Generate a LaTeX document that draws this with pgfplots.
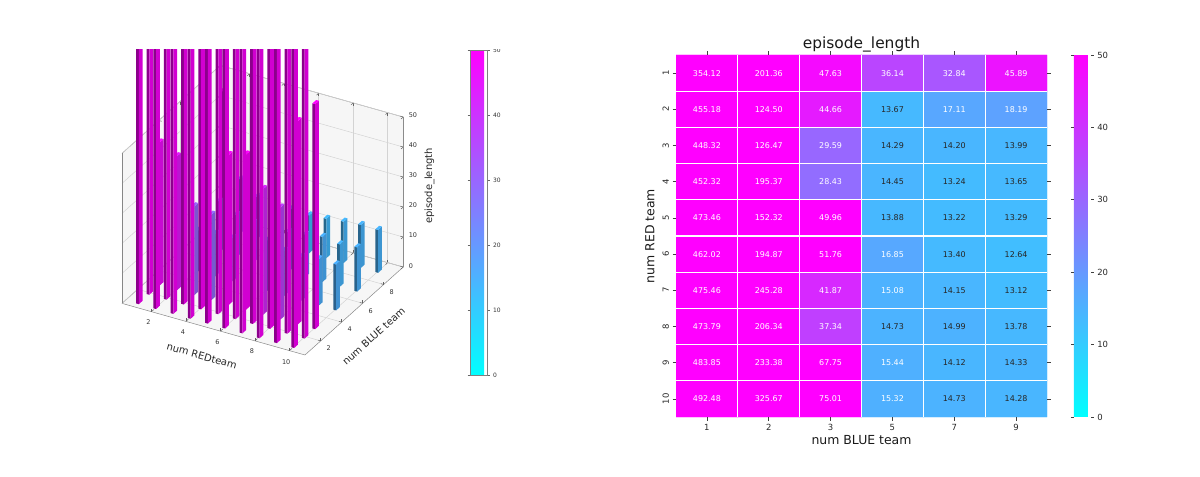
\documentclass[border=0pt]{standalone}
\usepackage{pgfplots}
\usepackage{pgfplotstable}
\pgfplotsset{compat=1.18}
\usepackage{fontspec}
\setmainfont{DejaVu Sans}

\pgfplotstableread{
red col blue v
1 0 1 354.12
1 1 2 201.36
1 2 3 47.63
1 3 5 36.14
1 4 7 32.84
1 5 9 45.89
2 0 1 455.18
2 1 2 124.50
2 2 3 44.66
2 3 5 13.67
2 4 7 17.11
2 5 9 18.19
3 0 1 448.32
3 1 2 126.47
3 2 3 29.59
3 3 5 14.29
3 4 7 14.20
3 5 9 13.99
4 0 1 452.32
4 1 2 195.37
4 2 3 28.43
4 3 5 14.45
4 4 7 13.24
4 5 9 13.65
5 0 1 473.46
5 1 2 152.32
5 2 3 49.96
5 3 5 13.88
5 4 7 13.22
5 5 9 13.29
6 0 1 462.02
6 1 2 194.87
6 2 3 51.76
6 3 5 16.85
6 4 7 13.40
6 5 9 12.64
7 0 1 475.46
7 1 2 245.28
7 2 3 41.87
7 3 5 15.08
7 4 7 14.15
7 5 9 13.12
8 0 1 473.79
8 1 2 206.34
8 2 3 37.34
8 3 5 14.73
8 4 7 14.99
8 5 9 13.78
9 0 1 483.85
9 1 2 233.38
9 2 3 67.75
9 3 5 15.44
9 4 7 14.12
9 5 9 14.33
10 0 1 492.48
10 1 2 325.67
10 2 3 75.01
10 3 5 15.32
10 4 7 14.73
10 5 9 14.28
}\eplen

\pgfplotsset{colormap={cool}{rgb=(0,1,1) rgb=(1,0,1)}}

\begin{document}
\begin{tikzpicture}
\useasboundingbox (0bp,0bp) rectangle (1200bp,477bp);
\begin{scope}
\clip (0bp,0bp) rectangle (640bp,427.5bp);
\begin{axis}[
  at={(122bp,122bp)}, anchor=south west,
  x={(17.26bp,-4.87bp)}, y={(10.5bp,9.4bp)}, z={(0bp,3bp)},
  xmin=0.3,xmax=10.9,ymin=0.5,ymax=9.86,zmin=0,zmax=50,
  clip=false,
  xtick={2,4,...,10}, ytick={2,4,6,8}, ztick={0,10,...,50},
  ztick pos=right,
  grid=major, grid style={black!14, line width=0.5bp},
  axis line style={black!45, line width=0.5bp},
  tick style={black!60, line width=0.5bp},
  major tick length=3bp,
  /pgf/number format/assume math mode=true,
  tick label style={font=\fontsize{6.5}{7}\selectfont, text=black!80},
  xticklabel style={yshift=-4bp},
  yticklabel style={xshift=3bp, yshift=-1bp},
  zticklabel style={xshift=2bp},
  zticklabel pos=right,
  xlabel={num REDteam}, ylabel={num BLUE team}, zlabel={episode\_length},
  label style={font=\fontsize{10}{11}\selectfont, text=black!85},
  xlabel style={sloped like x axis, yshift=-2bp},
  ylabel style={sloped like y axis, yshift=-6bp},
  colormap name=cool, point meta min=0, point meta max=50,
  colorbar, colorbar shift/.style={},
  colorbar style={at={(parent axis.south west)}, anchor=south west,
    xshift=348bp, yshift=-20bp, width=17bp, height=325bp, scale only axis,
    ytick={0,10,...,50}, yticklabel pos=right,
    axis line style={black!50, line width=0.5bp},
    tick align=outside, major tick length=2.5bp, tick style={black!60},
    /pgf/number format/assume math mode=true,
    yticklabel style={font=\fontsize{6}{7}\selectfont, text=black!80}},
]
% light panes (drawn over the grid with low opacity)
\fill[black, fill opacity=0.035] (axis cs:0.3,0.5,0) -- (axis cs:10.9,0.5,0) -- (axis cs:10.9,9.86,0) -- (axis cs:0.3,9.86,0) -- cycle;
\fill[black, fill opacity=0.035] (axis cs:0.3,0.5,0) -- (axis cs:0.3,9.86,0) -- (axis cs:0.3,9.86,50) -- (axis cs:0.3,0.5,50) -- cycle;
\fill[black, fill opacity=0.035] (axis cs:0.3,9.86,0) -- (axis cs:10.9,9.86,0) -- (axis cs:10.9,9.86,50) -- (axis cs:0.3,9.86,50) -- cycle;
\foreach \c in {5,4,3,2,1,0}{
  \foreach \r in {1,...,10}{
    \pgfmathtruncatemacro\idx{(\r-1)*6+\c}
    \pgfplotstablegetelem{\idx}{v}\of\eplen \let\h\pgfplotsretval
    \pgfplotstablegetelem{\idx}{blue}\of\eplen \let\bb\pgfplotsretval
    \pgfplotstablegetelem{\idx}{red}\of\eplen \let\rr\pgfplotsretval
    \pgfmathsetmacro\t{min(\h,50)/50}
    \pgfmathsetmacro\ga{1-\t}
    \pgfmathsetmacro\rl{0.55*\t}
    \pgfmathsetmacro\gl{0.55*(1-\t)}
    \pgfmathsetmacro\rd{0.82*\t}
    \pgfmathsetmacro\gd{0.82*(1-\t)}
    \pgfmathsetmacro\xa{\rr-0.08}
    \pgfmathsetmacro\xb{\rr+0.08}
    \pgfmathsetmacro\ya{\bb-0.18}
    \pgfmathsetmacro\yb{\bb+0.18}
    \edef\temp{%
      \noexpand\addplot3[draw=none, fill={rgb,1:red,\rl;green,\gl;blue,0.55}] coordinates {(\xa,\ya,0) (\xb,\ya,0) (\xb,\ya,\h) (\xa,\ya,\h)};
      \noexpand\addplot3[draw=none, fill={rgb,1:red,\rd;green,\gd;blue,0.82}] coordinates {(\xb,\ya,0) (\xb,\yb,0) (\xb,\yb,\h) (\xb,\ya,\h)};
      \noexpand\addplot3[draw=none, fill={rgb,1:red,\t;green,\ga;blue,1}] coordinates {(\xa,\ya,\h) (\xb,\ya,\h) (\xb,\yb,\h) (\xa,\yb,\h)};
    }
    \temp
  }
}
\end{axis}
\end{scope}

\begin{axis}[
  at={(676bp,60bp)}, anchor=south west,
  width=371bp, height=362bp, scale only axis,
  xmin=-0.5, xmax=5.5, ymin=0.5, ymax=10.5, y dir=reverse,
  xtick={0,...,5}, xticklabels={1,2,3,5,7,9},
  ytick={1,...,10},
  minor xtick={0.5,1.5,2.5,3.5,4.5}, minor ytick={1.5,2.5,...,9.5},
  grid=minor, minor grid style={white, line width=1.2bp},
  axis on top, axis line style={draw=none},
  tick align=outside, major tick length=3.5bp, minor tick length=0pt,
  tick style={black!75, line width=0.6bp},
  /pgf/number format/assume math mode=true,
  tick label style={font=\fontsize{8.5}{10}\selectfont, text=black!85},
  yticklabel style={rotate=90, anchor=south},
  title={episode\_length},
  every axis title shift=0pt,
  title style={at={(axis description cs:0.5,1.03)}, anchor=center, font=\fontsize{15.5}{17}\selectfont, text=black!90},
  xlabel={num BLUE team}, ylabel={num RED team},
  xlabel style={at={(axis description cs:0.5,-0.0635)}, anchor=center, font=\fontsize{12.5}{14}\selectfont, text=black!90},
  ylabel style={at={(axis description cs:-0.07,0.5)}, anchor=center, font=\fontsize{12.5}{14}\selectfont, text=black!90},
  colormap name=cool, point meta min=0, point meta max=50,
  colorbar, colorbar shift/.style={xshift=23bp},
  colorbar style={width=17bp, ytick={0,10,...,50}, y dir=normal, grid=none,
    minor ytick={}, axis line style={draw=none}, tick align=outside,
    major tick length=3bp, tick style={black!75, line width=0.6bp},
    /pgf/number format/assume math mode=true,
    yticklabel style={font=\fontsize{8.5}{10}\selectfont, text=black!85, rotate=0, anchor=west}},
]
\addplot[matrix plot*, mesh/cols=6, point meta={min(\thisrow{v},50)}] table[x=col, y=red] {\eplen};
\addplot[only marks, mark=none, point meta=explicit symbolic, nodes near coords,
  nodes near coords align={center},
  every node near coord/.append style={font=\fontsize{8}{9}\selectfont, text=white, anchor=center}]
  table[x=col, y expr={\thisrow{v}<15 ? nan : \thisrow{red}}, meta=v] {\eplen};
\addplot[only marks, mark=none, point meta=explicit symbolic, nodes near coords,
  nodes near coords align={center},
  every node near coord/.append style={font=\fontsize{8}{9}\selectfont, text=black!85, anchor=center}]
  table[x=col, y expr={\thisrow{v}<15 ? \thisrow{red} : nan}, meta=v] {\eplen};
\end{axis}
\end{tikzpicture}
\end{document}
